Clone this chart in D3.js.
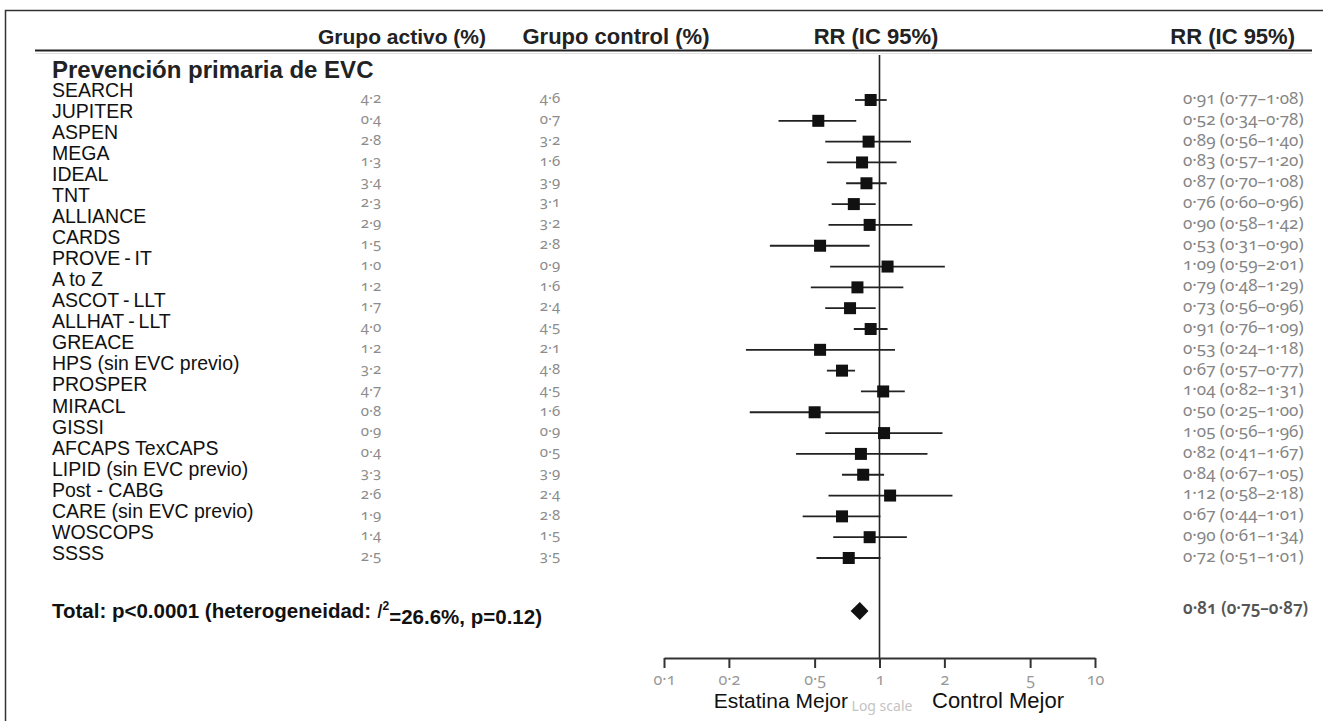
<!DOCTYPE html>
<html><head><meta charset="utf-8">
<script src="https://cdn.jsdelivr.net/npm/d3@7/dist/d3.min.js"></script>
<style>body{margin:0;background:#fff}svg{display:block}.num{font-variant-numeric:oldstyle-nums;font-feature-settings:"onum" 1}</style>
</head><body><svg id="c" width="1323" height="721"></svg>
<script>
const studies = ["SEARCH","JUPITER","ASPEN","MEGA","IDEAL","TNT","ALLIANCE","CARDS","PROVE\u2009-\u2009IT","A to Z","ASCOT\u2009-\u2009LLT","ALLHAT\u2009-\u2009LLT","GREACE","HPS (sin EVC previo)","PROSPER","MIRACL","GISSI","AFCAPS TexCAPS","LIPID (sin EVC previo)","Post  - CABG","CARE (sin EVC previo)","WOSCOPS","SSSS"];
const activo  = [4.2,0.4,2.8,1.3,3.4,2.3,2.9,1.5,1.0,1.2,1.7,4.0,1.2,3.2,4.7,0.8,0.9,0.4,3.3,2.6,1.9,1.4,2.5];
const control = [4.6,0.7,3.2,1.6,3.9,3.1,3.2,2.8,0.9,1.6,2.4,4.5,2.1,4.8,4.5,1.6,0.9,0.5,3.9,2.4,2.8,1.5,3.5];
const rr      = [0.91,0.52,0.89,0.83,0.87,0.76,0.90,0.53,1.09,0.79,0.73,0.91,0.53,0.67,1.04,0.50,1.05,0.82,0.84,1.12,0.67,0.90,0.72];
const lo      = [0.77,0.34,0.56,0.57,0.70,0.60,0.58,0.31,0.59,0.48,0.56,0.76,0.24,0.57,0.82,0.25,0.56,0.41,0.67,0.58,0.44,0.61,0.51];
const hi      = [1.08,0.78,1.40,1.20,1.08,0.96,1.42,0.90,2.01,1.29,0.96,1.09,1.18,0.77,1.31,1.00,1.96,1.67,1.05,2.18,1.01,1.34,1.01];
const total = {rr:0.81, lo:0.75, hi:0.87};
const axisTicks = [0.1,0.2,0.5,1,2,5,10];
const headers = ["Grupo activo (%)","Grupo control (%)","RR (IC 95%)","RR (IC 95%)"];

const svg = d3.select("#c");
const fmt = v => d3.format(".1f")(v).replace(".", "\u00b7");
const fmt2 = v => d3.format(".2f")(v).replace(".", "\u00b7");
const sans = "Liberation Sans, Arial, sans-serif";
const numFont = "Noto Sans, Open Sans, sans-serif";

const x = d3.scaleLog().domain([0.1,10]).range([664,1095]);
const idx = d3.range(studies.length);
const yLab = d3.scaleLinear().domain([0, studies.length-1]).range([90, 553]);
const yDat = d3.scaleLinear().domain([0, studies.length-1]).range([100, 558]);

// frame
svg.append("path").attr("d","M5.5,721 V10.5 H1323").attr("fill","none").attr("stroke","#333").attr("stroke-width",1.5);

// headers
const hx = [402, 616, 876, 1295];
const ha = ["middle","middle","middle","end"];
svg.selectAll("text.h").data(headers).join("text").attr("class","h")
  .attr("x",(d,i)=>hx[i]).attr("y",44).attr("text-anchor",(d,i)=>ha[i])
  .attr("font-family",sans).attr("font-weight","bold").attr("font-size",(d,i)=>i===0?21:22).attr("fill","#222")
  .text(d=>d);
svg.append("line").attr("x1",35).attr("x2",1312).attr("y1",50.5).attr("y2",50.5).attr("stroke","#222").attr("stroke-width",2);
svg.append("line").attr("x1",35).attr("x2",1312).attr("y1",53.5).attr("y2",53.5).attr("stroke","#e0e0e0").attr("stroke-width",1);

svg.append("text").attr("x",52).attr("y",78).attr("font-family",sans)
  .attr("font-weight","bold").attr("font-size",24).attr("fill","#222").text("Prevención primaria de EVC");

// study labels
svg.selectAll("text.s").data(studies).join("text").attr("class","s")
  .attr("x",52).attr("y",(d,i)=>yLab(i)).attr("dy","0.35em")
  .attr("font-family",sans).attr("font-size",19.5).attr("fill","#111").text(d=>d);

// numeric columns
svg.selectAll("text.a").data(activo).join("text").attr("class","a num")
  .attr("x",371).attr("y",(d,i)=>yDat(i)-2).attr("dy","0.35em").attr("text-anchor","middle")
  .attr("font-family",numFont).attr("font-size",15).attr("fill","#8c8c8c").text(fmt);
svg.selectAll("text.b").data(control).join("text").attr("class","b num")
  .attr("x",550).attr("y",(d,i)=>yDat(i)-2).attr("dy","0.35em").attr("text-anchor","middle")
  .attr("font-family",numFont).attr("font-size",15).attr("fill","#8c8c8c").text(fmt);

// right column
svg.selectAll("text.r").data(idx).join("text").attr("class","r num")
  .attr("x",1183).attr("y",i=>yDat(i)-2).attr("dy","0.35em")
  .attr("font-family",numFont).attr("font-size",17).attr("fill","#858585")
  .text(i=>`${fmt2(rr[i])} (${fmt2(lo[i])}\u2013${fmt2(hi[i])})`);

const yTot = 611;
svg.append("text").attr("class","num").attr("x",1183).attr("y",yTot-3).attr("dy","0.35em")
  .attr("font-family",numFont).attr("font-size",17).attr("fill","#555").attr("font-weight","600")
  .text(`${fmt2(total.rr)} (${fmt2(total.lo)}\u2013${fmt2(total.hi)})`);

// total label
const tt = svg.append("text").attr("x",52).attr("y",yTot).attr("dy","0.35em")
  .attr("font-family",sans).attr("font-weight","bold").attr("font-size",20.5).attr("fill","#111");
tt.append("tspan").text("Total: p<0.0001 (heterogeneidad: ");
tt.append("tspan").attr("font-style","italic").attr("font-weight","normal").text("I");
tt.append("tspan").attr("font-size",12).attr("dy","-0.7em").text("2");
tt.append("tspan").attr("dy","0.7em").text("=26.6%, p=0.12)");

// reference line at 1
svg.append("line").attr("x1",x(1)).attr("x2",x(1)).attr("y1",55).attr("y2",658).attr("stroke","#222").attr("stroke-width",1.6);

// CIs
svg.selectAll("line.ci").data(idx).join("line").attr("class","ci")
  .attr("x1",i=>x(lo[i])).attr("x2",i=>x(hi[i])).attr("y1",i=>yDat(i)).attr("y2",i=>yDat(i))
  .attr("stroke","#222").attr("stroke-width",1.8);
svg.selectAll("rect.pt").data(idx).join("rect").attr("class","pt")
  .attr("x",i=>x(rr[i])-6).attr("y",i=>yDat(i)-6).attr("width",12).attr("height",12).attr("fill","#111");

// diamond
svg.append("path").attr("fill","#111")
  .attr("d",`M${x(total.lo)-2},${yTot} L${x(total.rr)},${yTot-9} L${x(total.hi)+2},${yTot} L${x(total.rr)},${yTot+9} Z`);

// axis
const ax = d3.axisBottom(x).tickValues(axisTicks).tickSize(10).tickSizeOuter(0).tickFormat(d=>String(d).replace(".", "\u00b7"));
const g = svg.append("g").attr("transform","translate(0,658)").call(ax);
g.select(".domain").attr("stroke","#333").attr("stroke-width",2);
g.selectAll(".tick line").attr("stroke","#333").attr("stroke-width",2);
g.selectAll(".tick text").attr("class","num").attr("font-family",numFont).attr("font-size",16).attr("fill","#999").attr("dy","0.85em");

svg.append("text").attr("x",882).attr("y",711).attr("text-anchor","middle")
  .attr("font-family",numFont).attr("font-size",14).attr("fill","#c4c4c4").text("Log scale");
svg.append("text").attr("x",848).attr("y",708).attr("text-anchor","end")
  .attr("font-family",sans).attr("font-size",21).attr("fill","#111").text("Estatina Mejor");
svg.append("text").attr("x",932).attr("y",708)
  .attr("font-family",sans).attr("font-size",22).attr("fill","#111").text("Control Mejor");
</script></body></html>
